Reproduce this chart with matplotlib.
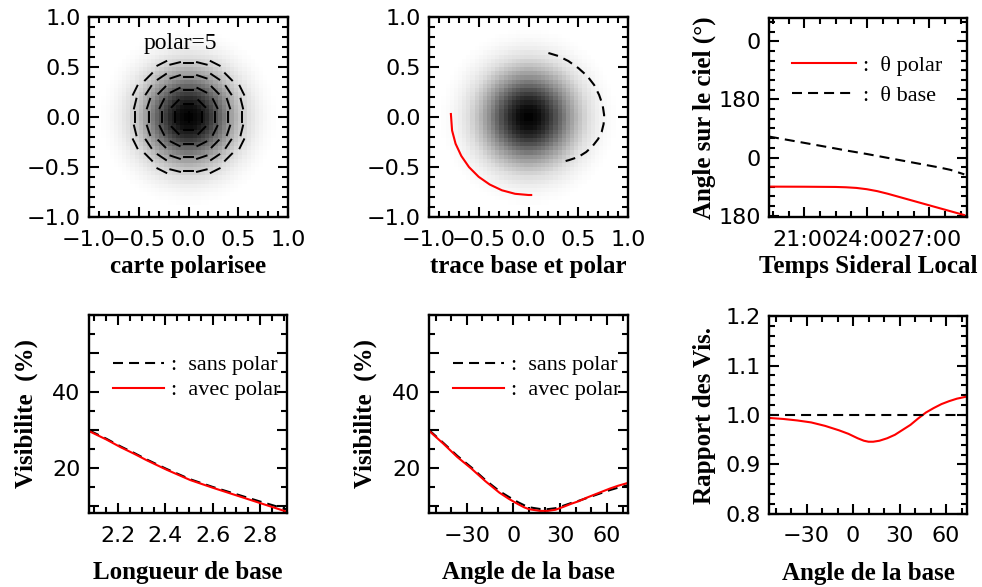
import numpy as np
import matplotlib
matplotlib.use('Agg')
import matplotlib.pyplot as plt
from matplotlib.ticker import MultipleLocator, FixedLocator, FixedFormatter, FuncFormatter

# --- carte polarisee (radial profile of the source)
prof_r = [0.0, 0.1, 0.2, 0.3, 0.4, 0.5, 0.6, 0.7, 0.8, 0.9, 1.5]
prof_v = [1.0, 0.95, 0.82, 0.63, 0.43, 0.26, 0.13, 0.06, 0.02, 0.0, 0.0]
map_pixels = 48
vec_step = 0.134
vec_rmax = 0.605
vec_len = 0.1

# --- trace base et polar
polar_x = [-0.78, -0.768, -0.733, -0.675, -0.598, -0.501, -0.39, -0.267, -0.135, 0.0, 0.027]
polar_y = [0.03, -0.135, -0.267, -0.39, -0.501, -0.598, -0.675, -0.733, -0.768, -0.78, -0.78]
base_x = [0.2, 0.3, 0.4, 0.5, 0.59, 0.66, 0.71, 0.745, 0.76, 0.755, 0.735, 0.7, 0.645, 0.58, 0.5, 0.41, 0.32]
base_y = [0.64, 0.61, 0.56, 0.49, 0.41, 0.32, 0.22, 0.12, 0.02, -0.07, -0.15, -0.22, -0.29, -0.35, -0.4, -0.43, -0.455]

# --- angle sur le ciel vs temps sideral local (heures)
tsl = [19.31, 21.0, 22.5, 23.0, 23.5, 24.0, 24.5, 25.0, 25.5, 26.0, 26.5, 27.0, 27.5, 28.0, 28.67]
theta_polar = [-90, -90.3, -91, -92, -94, -98, -104, -112, -121, -130, -139, -148, -157, -166, -178]
theta_base = [65, 45.5, 28, 22, 16.5, 11, 5, -1, -7, -13, -19, -25, -31, -38, -52]

# --- visibilite vs longueur de base
longueur = [2.08, 2.15, 2.21, 2.27, 2.32, 2.405, 2.505, 2.60, 2.70, 2.80, 2.91]
vis_sans_L = [29.8, 27.7, 25.7, 23.9, 22.3, 19.8, 17.1, 15.1, 13.2, 11.3, 9.3]
vis_avec_L = [29.6, 27.5, 25.5, 23.7, 22.1, 19.6, 16.9, 14.9, 12.9, 10.9, 8.7]

# --- visibilite vs angle de la base
angle = [-54, -45, -36, -27, -18, -9, -3, 3, 7, 10, 13, 17, 22, 27, 32, 37, 42, 47, 52, 57, 62, 67, 73]
vis_sans_A = [29.9, 26.6, 23.2, 20.2, 16.9, 14.0, 12.5, 11.1, 10.3, 9.8, 9.6, 9.35, 9.3, 9.55,
              10.2, 10.9, 11.5, 12.2, 12.9, 13.6, 14.3, 14.9, 15.5]
vis_avec_A = [29.7, 26.4, 22.9, 19.9, 16.6, 13.6, 12.0, 10.6, 9.75, 9.3, 9.1, 8.85, 8.85, 9.15,
              9.9, 10.7, 11.4, 12.3, 13.1, 13.9, 14.7, 15.4, 16.1]
rapport = [0.994, 0.992, 0.989, 0.985, 0.978, 0.969, 0.962, 0.953, 0.948, 0.946, 0.946, 0.948,
           0.953, 0.960, 0.970, 0.980, 0.993, 1.005, 1.014, 1.022, 1.028, 1.033, 1.037]

plt.rcParams['font.family'] = 'DejaVu Sans'
TICK_FS = 16
LAB = dict(family='Liberation Serif', fontweight='bold', fontsize=18)
LEG_FONT = dict(family='Liberation Serif', size=16)
DASH = (0, (4.8, 2.9))
RED = '#ff0000'

fig = plt.figure(figsize=(9.82, 5.87), dpi=100)
W, H = 982.0, 587.0


def add_axes(left, top, right, bottom):
    return fig.add_axes([left / W, 1 - bottom / H, (right - left) / W, (bottom - top) / H])


def style(ax, xmaj, xmin, ymaj, ymin):
    ax.xaxis.set_major_locator(xmaj)
    ax.xaxis.set_minor_locator(MultipleLocator(xmin))
    ax.yaxis.set_major_locator(ymaj)
    ax.yaxis.set_minor_locator(MultipleLocator(ymin))
    ax.tick_params(which='both', direction='in', top=True, right=True, width=1.5,
                   labelsize=TICK_FS)
    ax.tick_params(which='major', length=7.5)
    ax.tick_params(which='minor', length=4.5)
    ax.tick_params(axis='x', pad=9)
    ax.tick_params(axis='y', pad=6)
    for s in ax.spines.values():
        s.set_linewidth(1.7)


one_dec = FuncFormatter(lambda v, p: ('%.1f' % v).replace('-', '\u2212'))
int_fmt = FuncFormatter(lambda v, p: ('%d' % round(v)).replace('-', '\u2212'))

# ---------------- panel 1 : carte polarisee
xc = np.linspace(-1, 1, map_pixels + 1)
xc = 0.5 * (xc[1:] + xc[:-1])
gx, gy = np.meshgrid(xc, xc)
img = np.interp(np.hypot(gx, gy), prof_r, prof_v)

ax1 = add_axes(89, 17, 288, 217)
ax1.imshow(img, extent=[-1, 1, -1, 1], origin='lower', cmap='gray_r', vmin=0, vmax=1,
           interpolation='nearest', aspect='auto')
k = np.arange(-4, 5) * vec_step
vx, vy = np.meshgrid(k, k)
vx, vy = vx.ravel(), vy.ravel()
keep = np.hypot(vx, vy) <= vec_rmax
vx, vy = vx[keep], vy[keep]
phi = np.arctan2(vy, vx) + np.pi / 2
dx, dy = 0.5 * vec_len * np.cos(phi), 0.5 * vec_len * np.sin(phi)
for x0, y0, ddx, ddy in zip(vx, vy, dx, dy):
    ax1.plot([x0 - ddx, x0 + ddx], [y0 - ddy, y0 + ddy], color='k', lw=1.4)
ax1.text(-0.08, 0.74, 'polar=5', ha='center', va='center', family='Liberation Serif', fontsize=17)
ax1.set_xlim(-1, 1)
ax1.set_ylim(-1, 1)
style(ax1, MultipleLocator(0.5), 0.1, MultipleLocator(0.5), 0.1)
ax1.xaxis.set_major_formatter(one_dec)
ax1.yaxis.set_major_formatter(one_dec)
ax1.set_xlabel('carte polarisee', **LAB)
ax1.xaxis.set_label_coords(0.5, -0.19)

# ---------------- panel 2 : trace base et polar
ax2 = add_axes(429, 17, 628, 217)
ax2.imshow(img, extent=[-1, 1, -1, 1], origin='lower', cmap='gray_r', vmin=0, vmax=1,
           interpolation='nearest', aspect='auto')
ax2.plot(polar_x, polar_y, color=RED, lw=1.5)
ax2.plot(base_x, base_y, color='k', lw=1.5, linestyle=DASH)
ax2.set_xlim(-1, 1)
ax2.set_ylim(-1, 1)
style(ax2, MultipleLocator(0.5), 0.1, MultipleLocator(0.5), 0.1)
ax2.xaxis.set_major_formatter(one_dec)
ax2.yaxis.set_major_formatter(one_dec)
ax2.set_xlabel('trace base et polar', **LAB)
ax2.xaxis.set_label_coords(0.5, -0.19)

# ---------------- panel 3 : angle sur le ciel
ax3 = add_axes(769, 18, 967, 217)
ax3.plot(tsl, theta_polar, color=RED, lw=1.5, label=':  \u03b8 polar')
ax3.plot(tsl, theta_base, color='k', lw=1.5, linestyle=DASH, label=':  \u03b8 base')
ax3.set_xlim(19.31, 28.8)
ax3.set_ylim(-184, 432)
style(ax3, FixedLocator([21, 24, 27]), 0.75, FixedLocator([-180, 0, 180, 360]), 30)
ax3.xaxis.set_major_formatter(FuncFormatter(lambda v, p: '%d:00' % round(v)))
ax3.yaxis.set_major_formatter(FixedFormatter(['180', '0', '180', '0']))
ax3.set_xlabel('Temps Sideral Local', **LAB)
ax3.xaxis.set_label_coords(0.5, -0.19)
ax3.set_ylabel('Angle sur le ciel (\u00b0)', **LAB)
ax3.yaxis.set_label_coords(-0.27, 0.5)
ax3.legend(loc='upper left', bbox_to_anchor=(0.06, 0.87), frameon=False, prop=LEG_FONT,
           handlelength=2.9, handletextpad=0.3, labelspacing=0.45, borderpad=0)

# ---------------- panels 4, 5 : visibilite
vis_fmt = FuncFormatter(lambda v, p: '%d' % v if round(v) in (20, 40) else '')

ax4 = add_axes(89, 315, 287, 513)
ax4.plot(longueur, vis_sans_L, color='k', lw=1.5, linestyle=DASH, label=':  sans polar')
ax4.plot(longueur, vis_avec_L, color=RED, lw=1.5, label=':  avec polar')
ax4.set_xlim(2.077, 2.914)
ax4.set_ylim(8.3, 60)
style(ax4, MultipleLocator(0.2), 0.05, MultipleLocator(10), 5)
ax4.xaxis.set_major_formatter(FuncFormatter(lambda v, p: '%.1f' % v))
ax4.yaxis.set_major_formatter(vis_fmt)
ax4.set_xlabel('Longueur de base', **LAB)
ax4.xaxis.set_label_coords(0.5, -0.24)
ax4.set_ylabel('Visibilite  (%)', **LAB)
ax4.yaxis.set_label_coords(-0.26, 0.5)
ax4.legend(loc='upper left', bbox_to_anchor=(0.065, 0.855), frameon=False, prop=LEG_FONT,
           handlelength=2.3, handletextpad=0.3, labelspacing=0.2, borderpad=0)

ax5 = add_axes(429, 315, 628, 513)
ax5.plot(angle, vis_sans_A, color='k', lw=1.5, linestyle=DASH, label=':  sans polar')
ax5.plot(angle, vis_avec_A, color=RED, lw=1.5, label=':  avec polar')
ax5.set_xlim(-54.2, 73.5)
ax5.set_ylim(8.3, 60)
style(ax5, MultipleLocator(30), 10, MultipleLocator(10), 5)
ax5.xaxis.set_major_formatter(int_fmt)
ax5.yaxis.set_major_formatter(vis_fmt)
ax5.set_xlabel('Angle de la base', **LAB)
ax5.xaxis.set_label_coords(0.5, -0.24)
ax5.set_ylabel('Visibilite  (%)', **LAB)
ax5.yaxis.set_label_coords(-0.26, 0.5)
ax5.legend(loc='upper left', bbox_to_anchor=(0.065, 0.855), frameon=False, prop=LEG_FONT,
           handlelength=2.3, handletextpad=0.3, labelspacing=0.2, borderpad=0)

# ---------------- panel 6 : rapport
ax6 = add_axes(769, 316, 967, 514)
ax6.plot(angle, rapport, color=RED, lw=1.5)
ax6.axhline(1.0, color='k', lw=1.5, linestyle=DASH)
ax6.set_xlim(-54.2, 73.5)
ax6.set_ylim(0.8, 1.2)
style(ax6, MultipleLocator(30), 10, MultipleLocator(0.1), 0.02)
ax6.xaxis.set_major_formatter(int_fmt)
ax6.yaxis.set_major_formatter(FuncFormatter(lambda v, p: '%.1f' % v))
ax6.set_xlabel('Angle de la base', **LAB)
ax6.xaxis.set_label_coords(0.5, -0.24)
ax6.set_ylabel('Rapport des Vis.', **LAB)
ax6.yaxis.set_label_coords(-0.27, 0.5)

fig.savefig('out.png', dpi=100)
